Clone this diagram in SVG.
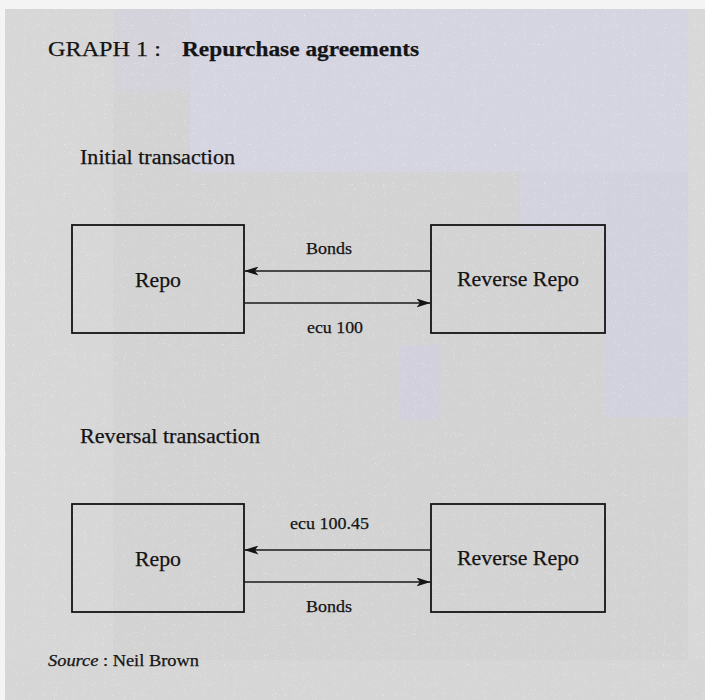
<svg xmlns="http://www.w3.org/2000/svg" width="705" height="700" viewBox="0 0 705 700">
  <defs>
    <style>
      .txt { font-family: "Liberation Serif", "Times New Roman", serif; fill: #141414; stroke: #141414; stroke-width: 0.25; }
      .title { font-size: 21px; }
      .bold { font-weight: bold; }
      .head { font-size: 20px; }
      .node { font-size: 21px; }
      .lbl { font-size: 17px; }
      .src { font-size: 17px; }
      .box { fill: none; stroke: #141414; stroke-width: 1.8; }
      .flow { stroke: #1a1a1a; stroke-width: 1.6; fill: none; }
    </style>
    <marker id="arrowhead" viewBox="0 0 14 9" refX="13.5" refY="4.5" markerWidth="14" markerHeight="9" markerUnits="userSpaceOnUse" orient="auto">
      <path d="M0,0 L14,4.5 L0,9 L3.5,4.5 Z" fill="#141414"/>
    </marker>
    <filter id="grain" x="0" y="0" width="100%" height="100%">
      <feTurbulence type="fractalNoise" baseFrequency="0.9" numOctaves="1" seed="7" result="n"/>
      <feColorMatrix in="n" type="matrix" values="0 0 0 0 1  0 0 0 0 1  0 0 0 0 1  0 0 0 4 -2.6"/>
    </filter>
  </defs>

  <!-- paper and printed panel -->
  <rect x="0" y="0" width="705" height="700" fill="#f4f4f4"/>
  <rect x="5" y="9" width="700" height="691" fill="#d3d3d3"/>
  <rect x="5" y="9" width="108" height="691" fill="#d7d7d7"/>
  <rect x="113" y="9" width="77" height="82" fill="#d4d3dc"/>
  <rect x="190" y="9" width="498" height="163" fill="#d5d4e1"/>
  <rect x="520" y="172" width="85" height="58" fill="#d3d2df"/>
  <rect x="605" y="172" width="83" height="245" fill="#d2d1de"/>
  <rect x="400" y="345" width="40" height="75" fill="#d1d0dc"/>
  <rect x="688" y="9" width="17" height="691" fill="#d8d8d8"/>
  <rect x="5" y="660" width="700" height="40" fill="#d6d6d6"/>
  <rect x="5" y="9" width="700" height="691" filter="url(#grain)" opacity="0.7"/>

  <!-- headings -->
  <g id="title">
    <text class="txt title" x="48" y="56" textLength="113" lengthAdjust="spacingAndGlyphs">GRAPH 1 :</text>
    <text class="txt title bold" x="182" y="56" textLength="237" lengthAdjust="spacingAndGlyphs">Repurchase agreements</text>
  </g>
  <text class="txt head" x="80" y="164" textLength="155" lengthAdjust="spacingAndGlyphs">Initial transaction</text>
  <text class="txt head" x="80" y="443" textLength="180" lengthAdjust="spacingAndGlyphs">Reversal transaction</text>

  <!-- initial transaction nodes -->
  <g id="repo-initial">
    <rect class="box" x="72" y="225" width="172" height="108"/>
    <text class="txt node" x="135" y="287" textLength="46" lengthAdjust="spacingAndGlyphs">Repo</text>
  </g>
  <g id="reverse-initial">
    <rect class="box" x="431" y="225" width="174" height="108"/>
    <text class="txt node" x="457" y="286" textLength="122" lengthAdjust="spacingAndGlyphs">Reverse Repo</text>
  </g>

  <!-- reversal transaction nodes -->
  <g id="repo-reversal">
    <rect class="box" x="72" y="504" width="172" height="108"/>
    <text class="txt node" x="135" y="566" textLength="46" lengthAdjust="spacingAndGlyphs">Repo</text>
  </g>
  <g id="reverse-reversal">
    <rect class="box" x="431" y="504" width="174" height="108"/>
    <text class="txt node" x="457" y="565" textLength="122" lengthAdjust="spacingAndGlyphs">Reverse Repo</text>
  </g>

  <!-- flows between counterparties -->
  <g id="connectors">
    <line class="flow" x1="431" y1="271" x2="245" y2="271" marker-end="url(#arrowhead)"/>
    <line class="flow" x1="244" y1="303" x2="430" y2="303" marker-end="url(#arrowhead)"/>
    <text class="txt lbl" x="306" y="254" textLength="46" lengthAdjust="spacingAndGlyphs">Bonds</text>
    <text class="txt lbl" x="307" y="333" textLength="56" lengthAdjust="spacingAndGlyphs">ecu 100</text>

    <line class="flow" x1="431" y1="550" x2="245" y2="550" marker-end="url(#arrowhead)"/>
    <line class="flow" x1="244" y1="582" x2="430" y2="582" marker-end="url(#arrowhead)"/>
    <text class="txt lbl" x="290" y="529" textLength="79" lengthAdjust="spacingAndGlyphs">ecu 100.45</text>
    <text class="txt lbl" x="306" y="612" textLength="46" lengthAdjust="spacingAndGlyphs">Bonds</text>
  </g>

  <!-- source note -->
  <text class="txt src" x="48" y="666" textLength="151" lengthAdjust="spacingAndGlyphs"><tspan font-style="italic">Source</tspan> : Neil Brown</text>
</svg>
